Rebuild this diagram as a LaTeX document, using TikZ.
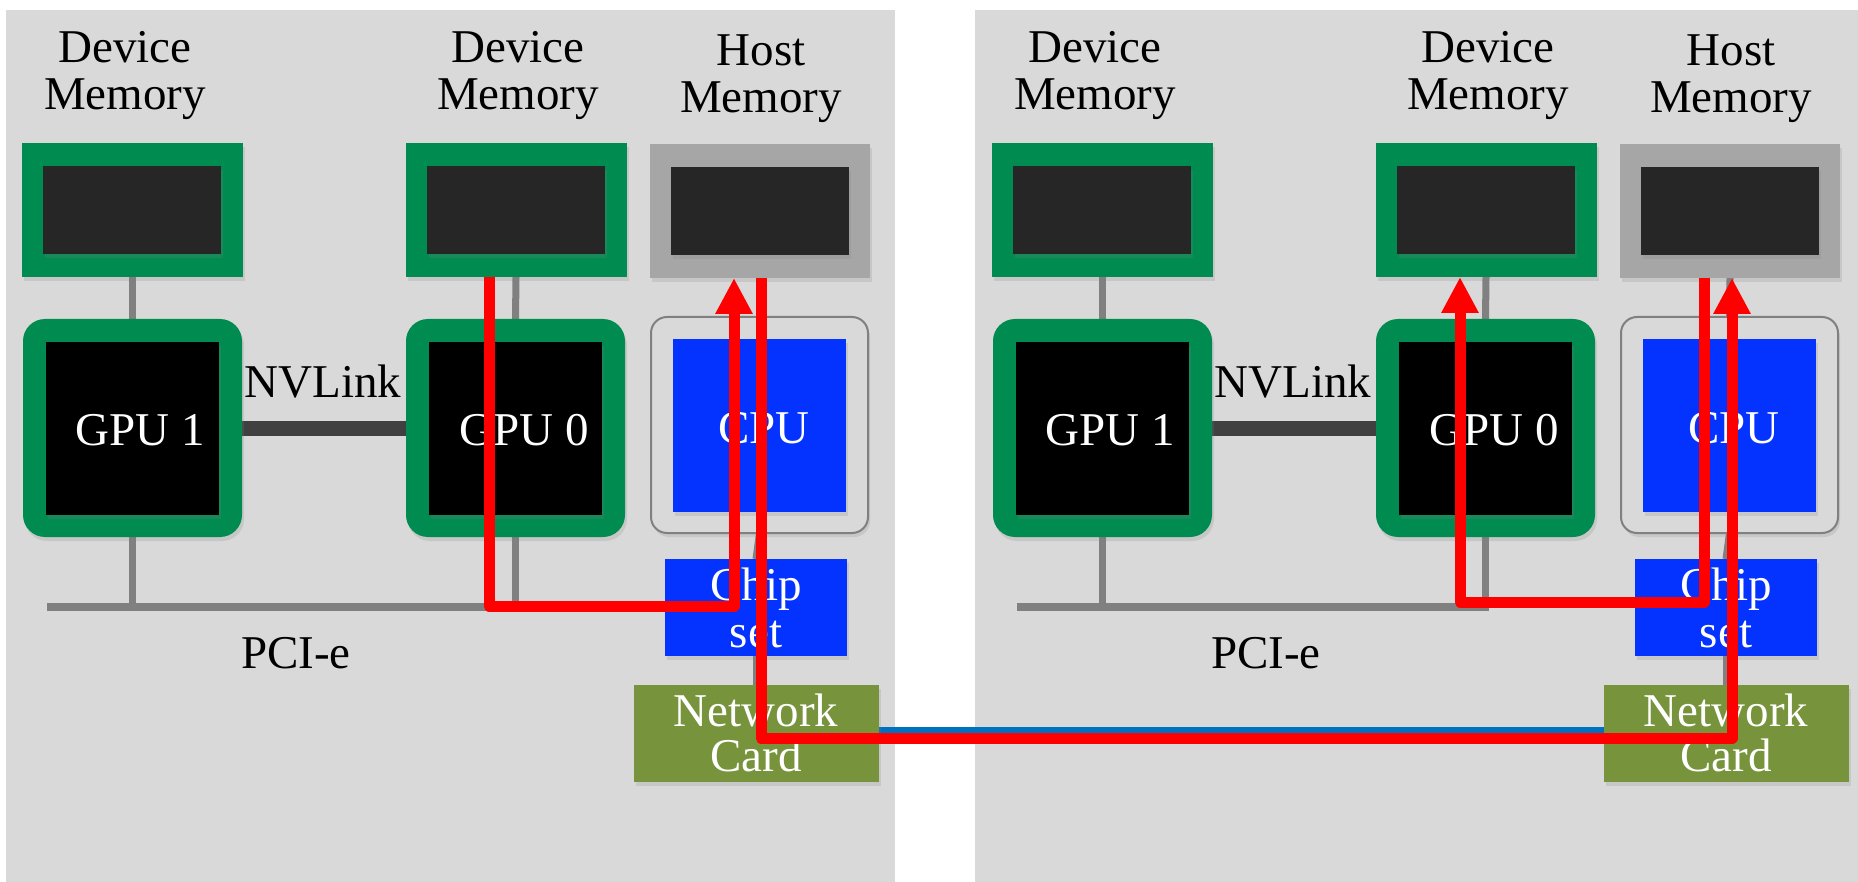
\documentclass[tikz,border=0pt]{standalone}
\usepackage{fontspec}
\setmainfont{Liberation Serif}
\usetikzlibrary{arrows.meta,shadows}
\definecolor{panelgray}{RGB}{217,217,217}
\definecolor{nvgreen}{RGB}{0,140,80}
\definecolor{darkchip}{RGB}{38,38,38}
\definecolor{hostgray}{RGB}{166,166,166}
\definecolor{cpublue}{RGB}{4,51,255}
\definecolor{olivecard}{RGB}{119,147,60}
\definecolor{linkgray}{RGB}{64,64,64}
\definecolor{busgray}{RGB}{128,128,128}
\definecolor{linkblue}{RGB}{0,112,192}
\pgfdeclarelayer{panel}
\pgfdeclarelayer{back}
\pgfsetlayers{panel,back,main}
\tikzset{
  box/.style={inner sep=0pt, outer sep=0pt, drop shadow={shadow xshift=2pt, shadow yshift=-4pt, opacity=0.2}},
  memouter/.style={box, fill=nvgreen, minimum width=221pt, minimum height=134pt},
  hostouter/.style={box, fill=hostgray, minimum width=220pt, minimum height=134pt},
  chipinner/.style={box, fill=darkchip, minimum width=178pt, minimum height=88pt},
  gpuouter/.style={box, fill=nvgreen, rounded corners=22pt, minimum width=219pt, minimum height=218pt},
  gpuinner/.style={box, fill=black, minimum width=173pt, minimum height=173pt},
  cpuouter/.style={box, fill=panelgray, draw=busgray, line width=2pt, rounded corners=16pt, minimum width=217pt, minimum height=216pt},
  cpuinner/.style={box, fill=cpublue, minimum width=173pt, minimum height=173pt},
  chipsetbox/.style={box, fill=cpublue, minimum width=182pt, minimum height=97pt},
  nicbox/.style={box, fill=olivecard, minimum width=245pt, minimum height=97pt},
  lab/.style={font=\fontsize{47}{47}\selectfont, align=center, inner sep=0pt},
  wlab/.style={lab, text=white},
  wire/.style={draw=busgray, line width=7pt},
  nvlinkbar/.style={draw=linkgray, line width=15pt},
  busbar/.style={draw=busgray, line width=8pt},
  netlink/.style={draw=linkblue, line width=6pt},
  flowarrow/.style={draw=red, line width=11pt, line join=round, -{Triangle[width=35pt,length=36pt]}},
}
\begin{document}
\begin{tikzpicture}[x=1pt,y=-1pt]
\useasboundingbox (0,0) rectangle (1858,882);
\begin{pgfonlayer}{panel}
  \fill[panelgray] (6,10) rectangle (895,890);
  \fill[panelgray] (975,10) rectangle (1865,890);
\end{pgfonlayer}
\foreach \p/\dx in {L/0,R/970}{
\begin{scope}[xshift=\dx pt]
  \node[lab] (\p lab1) at (125,76) {Device\\Memory};
  \node[lab] (\p lab2) at (518,76) {Device\\Memory};
  \node[lab] (\p lab3) at (761,79) {Host\\Memory};
  \node[memouter] (\p dm1) at (132.5,210) {};
  \node[chipinner] (\p dm1c) at (132,210) {};
  \node[memouter] (\p dm2) at (516,210) {};
  \node[chipinner] (\p dm2c) at (516,210) {};
  \node[hostouter] (\p hm) at (760,211) {};
  \node[chipinner] (\p hmc) at (760,211) {};
  \node[gpuouter] (\p gpu1) at (132.5,428) {};
  \node[gpuinner] (\p gpu1c) at (132.5,428.5) {};
  \node[gpuouter] (\p gpu0) at (515.5,428) {};
  \node[gpuinner] (\p gpu0c) at (515.5,428.5) {};
  \node[cpuouter] (\p cpu) at (759.5,425) {};
  \node[cpuinner] (\p cpuc) at (759.5,425.5) {};
  \node[wlab, anchor=base] (\p t1) at (140,445) {GPU 1};
  \node[wlab, anchor=base] (\p t0) at (524,445) {GPU 0};
  \node[wlab, anchor=base] (\p tc) at (764,443) {CPU};
  \node[lab, anchor=base] (\p nv) at (323,398) {NVLink};
  \node[lab, anchor=base] (\p pci) at (296,668) {PCI-e};
  \node[chipsetbox, wlab] (\p cs) at (756,607.5) {Chip\\set};
  \node[nicbox, wlab, font=\fontsize{47}{45}\selectfont] (\p nic) at (756,733) {Network\\Card};
  \coordinate (\p busL) at (47,607);
  \coordinate (\p busR) at (519,607);
  \begin{pgfonlayer}{back}
    \draw[wire] (\p dm1.south) -- (\p gpu1.north);
    \draw[wire] (\p dm2.south) -- (\p gpu0.north);
    \draw[wire] (\p hm.south) -- (\p cpu.north);
    \draw[wire] (\p cpu.south) -- (\p cs.north);
    \draw[wire] (\p cs.south) -- (\p nic.north);
    \draw[busbar] (\p busL) -- (\p busR);
    \draw[wire] (\p gpu1.south) -- (\p gpu1.south |- \p busL);
    \draw[wire] (\p gpu0.south) -- (\p gpu0.south |- \p busL);
    \draw[nvlinkbar] (\p gpu1.east) -- (\p gpu0.west);
  \end{pgfonlayer}
\end{scope}
}
\begin{pgfonlayer}{back}
  \draw[netlink] ([yshift=3.5pt]Lnic.east) -- ([yshift=3.5pt]Rnic.west);
\end{pgfonlayer}
\draw[flowarrow] ([xshift=-27pt]Ldm2.south) -- ++(0,329) -| ([xshift=-26pt]Lhm.south);
\draw[flowarrow] ([xshift=1pt]Lhm.south) -- ++(0,460) -| ([xshift=2pt]Rhm.south);
\draw[flowarrow] ([xshift=-26pt]Rhm.south) -- ++(0,324) -| ([xshift=-26pt]Rdm2.south);
\end{tikzpicture}
\end{document}
